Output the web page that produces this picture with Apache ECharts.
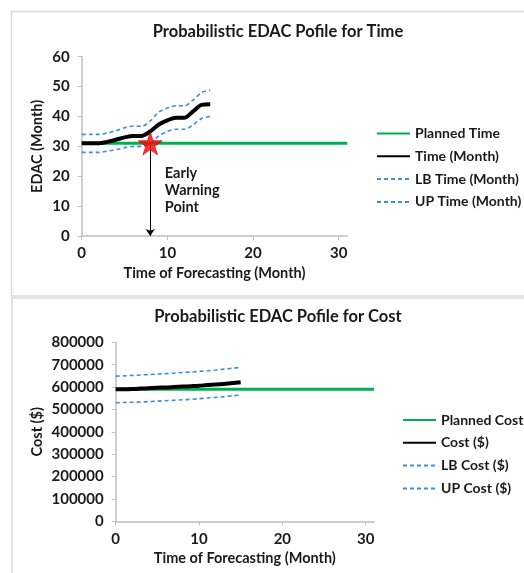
<!DOCTYPE html>
<html><head><meta charset="utf-8">
<script src="https://cdn.jsdelivr.net/npm/echarts@6/dist/echarts.min.js"></script>
<style>html,body{margin:0;padding:0;background:#fff}#c{width:524px;height:573px}</style>
</head><body><div id="c"></div><script>
// ---- data ----
const months = [0,1,2,3,4,5,6,7,8,9,10,11,12,13,14,15];
const timeActual = [31,31,31,31.5,32.2,33,33.5,33.5,35,37.3,38.7,39.6,39.6,41.7,43.9,44.1];
const timeLB = [28,28,28,28.4,28.9,29.5,30,30,31,33.5,35,35.7,35.7,37.2,39.3,40];
const timeUP = [34,34,34,34.5,35.3,36.2,36.8,36.7,38.5,41.5,42.8,43.6,43.6,45.5,48,48.8];
const plannedTime = 31;
const costActual = [590000,590000,591000,593000,595000,597000,598000,600000,602000,604000,606000,609000,611000,614000,618000,621000];
const costLB = [530000,531000,532000,533000,535000,537000,539000,541000,543000,545000,548000,551000,554000,557000,561000,564000];
const costUP = [649000,650000,652000,654000,656000,658000,660000,662000,665000,667000,670000,673000,676000,680000,684000,688000];
const plannedCost = 590000;
const xRange = [0, 31];
const xTickLabels = [0, 10, 20, 30];
const warningMonth = 8;
const warningText = 'Early\nWarning\nPoint';
const warningTextAt = [9.7, 15.4];

const pair = (xs, ys) => xs.map((x, i) => [x, ys[i]]);
const FONT = 'Lato';
const TXT = '#1a1a1a';
const GREEN = '#00b050', BLUE = '#3a8fd9', AXIS = '#bfbfbf';
const STAR = 'path://M50,0 L61,35 L98,35 L68,57 L79,91 L50,70 L21,91 L32,57 L2,35 L39,35 Z';

function xAx(gi) {
  return {
    type: 'value', gridIndex: gi, min: xRange[0], max: xRange[1], interval: 10,
    name: 'Time of Forecasting (Month)', nameLocation: 'middle', nameGap: 30,
    nameTextStyle: {fontFamily: FONT, fontWeight: 'bold', fontSize: 14.5, color: TXT},
    axisLine: {show: true, lineStyle: {color: AXIS, width: 1.5}},
    axisTick: {show: true, length: 4, lineStyle: {color: AXIS}, customValues: xTickLabels},
    axisLabel: {fontFamily: FONT, fontWeight: 'bold', fontSize: 15, color: TXT, margin: 10, customValues: xTickLabels},
    splitLine: {show: false}
  };
}
function yAx(gi, name, max, interval, gap) {
  return {
    type: 'value', gridIndex: gi, min: 0, max: max, interval: interval,
    name: name, nameLocation: 'middle', nameGap: gap, nameRotate: 90, nameMoveOverlap: false,
    nameTextStyle: {fontFamily: FONT, fontWeight: 'bold', fontSize: 14.5, color: TXT},
    axisLine: {show: true, lineStyle: {color: AXIS, width: 1.5}},
    axisTick: {show: true, length: 4, lineStyle: {color: AXIS}},
    axisLabel: {fontFamily: FONT, fontWeight: 'bold', fontSize: 15, color: TXT, margin: 12,
                formatter: v => String(v)},
    splitLine: {show: false}
  };
}
function line(name, gi, data, color, width, dashed, z) {
  return {
    name: name, type: 'line', xAxisIndex: gi, yAxisIndex: gi, data: data,
    symbol: 'none', smooth: 0.3, z: z,
    lineStyle: {color: color, width: width, type: dashed ? [4, 3] : 'solid'},
    itemStyle: {color: color}
  };
}
function legend(names, left, top) {
  return {
    orient: 'vertical', left: left, top: top, itemWidth: 33, itemHeight: 14, itemGap: 8.8,
    data: names, itemStyle: {opacity: 0},
    textStyle: {fontFamily: FONT, fontWeight: 'bold', fontSize: 14, color: TXT}
  };
}

const chart = echarts.init(document.getElementById('c'), null, {renderer: 'canvas'});
chart.setOption({
  animation: false,
  backgroundColor: '#fff',
  graphic: [
    {type: 'rect', shape: {x: 11.5, y: 11.5, width: 530, height: 284.5}, style: {fill: 'none', stroke: '#d9d9d9', lineWidth: 1.5}, silent: true, z: -1},
    {type: 'rect', shape: {x: 12, y: 298, width: 530, height: 300}, style: {fill: 'none', stroke: '#d9d9d9', lineWidth: 1.5}, silent: true, z: -1}
  ],
  title: [
    {text: 'Probabilistic EDAC Pofile for Time', left: 273, top: 18, textAlign: 'center',
     textStyle: {fontFamily: FONT, fontWeight: 'bold', fontSize: 16.5, color: TXT}},
    {text: 'Probabilistic EDAC Pofile for Cost', left: 273, top: 303.5, textAlign: 'center',
     textStyle: {fontFamily: FONT, fontWeight: 'bold', fontSize: 16.5, color: TXT}}
  ],
  legend: [
    legend(['Planned Time', 'Time (Month)', 'LB Time (Month)', 'UP Time (Month)'], 371, 121.5),
    legend(['Planned Cost', 'Cost ($)', 'LB Cost ($)', 'UP Cost ($)'], 397, 408)
  ],
  grid: [
    {left: 81.7, top: 56.7, width: 265.6, height: 179.3},
    {left: 115.7, top: 342.3, width: 258.3, height: 179}
  ],
  xAxis: [xAx(0), xAx(1)],
  yAxis: [yAx(0, 'EDAC (Month)', 60, 10, 37), yAx(1, 'Cost ($)', 800000, 100000, 71)],
  series: [
    line('Planned Time', 0, [[xRange[0], plannedTime], [xRange[1], plannedTime]], GREEN, 3, false, 2),
    line('Time (Month)', 0, pair(months, timeActual), '#000', 4, false, 4),
    line('LB Time (Month)', 0, pair(months, timeLB), BLUE, 1.6, true, 3),
    line('UP Time (Month)', 0, pair(months, timeUP), BLUE, 1.6, true, 3),
    {
      name: 'Early Warning', type: 'scatter', xAxisIndex: 0, yAxisIndex: 0, z: 6,
      data: [[warningMonth, plannedTime]], symbol: STAR, symbolSize: [24, 23],
      itemStyle: {color: '#ff0000', borderColor: '#c00000', borderWidth: 0.8},
      markLine: {
        silent: true, symbol: ['none', 'arrow'], symbolSize: 7, z: 1,
        lineStyle: {color: '#000', width: 1, type: 'solid'}, label: {show: false},
        data: [[{coord: [warningMonth, plannedTime]}, {coord: [warningMonth, 0]}]]
      },
      markPoint: {
        silent: true, symbol: 'circle', symbolSize: 0,
        label: {show: true, position: 'right', distance: 0, formatter: warningText,
                fontFamily: FONT, fontWeight: 'bold', fontSize: 14.5, color: TXT, lineHeight: 17, align: 'left'},
        data: [{coord: warningTextAt}]
      }
    },
    line('Planned Cost', 1, [[xRange[0], plannedCost], [xRange[1], plannedCost]], GREEN, 3, false, 2),
    line('Cost ($)', 1, pair(months, costActual), '#000', 4, false, 4),
    line('LB Cost ($)', 1, pair(months, costLB), BLUE, 1.6, true, 3),
    line('UP Cost ($)', 1, pair(months, costUP), BLUE, 1.6, true, 3)
  ]
});
</script></body></html>
